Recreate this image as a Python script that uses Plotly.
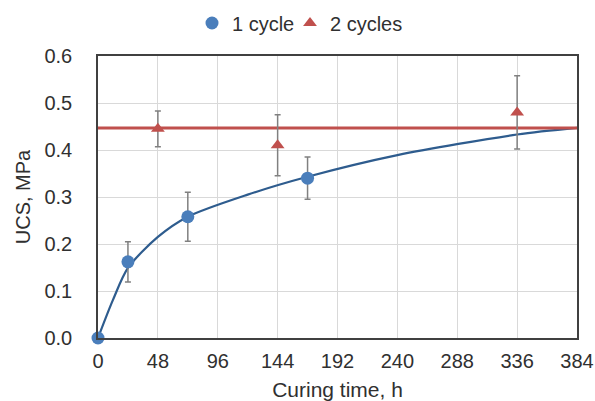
import plotly.graph_objects as go

# 1 cycle measured data
t1 = [0, 24, 72, 168]
ucs1 = [0.0, 0.162, 0.258, 0.340]
err1 = [0.0, 0.043, 0.052, 0.045]

# 2 cycles measured data
t2 = [48, 144, 336]
ucs2 = [0.445, 0.410, 0.480]
err2 = [0.038, 0.065, 0.078]

# trend curve for 1 cycle
fit_t = [0, 12, 24, 48, 72, 120, 168, 240, 336, 384]
fit_ucs = [0.0, 0.081, 0.149, 0.215, 0.258, 0.305, 0.343, 0.389, 0.433, 0.447]

# 2 cycles level line
lvl_t = [0, 384]
lvl_ucs = [0.447, 0.447]

x_ticks = [0, 48, 96, 144, 192, 240, 288, 336, 384]
y_ticks = [0.0, 0.1, 0.2, 0.3, 0.4, 0.5, 0.6]

BLUE = "#4a7ebb"
DARKBLUE = "#2e5c8e"
RED = "#c0504d"
GREY = "#808080"
FONT = "Liberation Sans, Arial, sans-serif"
TXT = "#303030"

fig = go.Figure()

fig.add_trace(go.Scatter(x=fit_t, y=fit_ucs, mode="lines", line=dict(color=DARKBLUE, width=2.2, shape="spline", smoothing=0.8),
                         showlegend=False, hoverinfo="skip"))
fig.add_trace(go.Scatter(x=lvl_t, y=lvl_ucs, mode="lines", line=dict(color=RED, width=3),
                         showlegend=False, hoverinfo="skip"))

fig.add_trace(go.Scatter(x=t1, y=ucs1, mode="markers", name="1 cycle", legend="legend",
                         marker=dict(symbol="circle", size=13, color=BLUE),
                         error_y=dict(type="data", array=err1, color=GREY, thickness=1.5, width=3),
                         cliponaxis=False))
fig.add_trace(go.Scatter(x=t2, y=ucs2, mode="markers", name="2 cycles", legend="legend2",
                         marker=dict(symbol="triangle-up", size=12, color=RED),
                         error_y=dict(type="data", array=err2, color=GREY, thickness=1.5, width=3),
                         cliponaxis=False))

W, H = 595, 401
leg_common = dict(orientation="h", xref="container", yref="container", xanchor="left",
                  y=1 - 23 / H, yanchor="middle", font=dict(size=20, color=TXT),
                  itemwidth=30, bgcolor="rgba(0,0,0,0)")
fig.update_layout(
    width=W, height=H,
    margin=dict(l=98, r=18, t=56, b=63, autoexpand=False),
    paper_bgcolor="white", plot_bgcolor="white",
    font=dict(family=FONT, size=20, color=TXT),
    legend=dict(x=192 / W, **leg_common),
    legend2=dict(x=290 / W, **leg_common),
    xaxis=dict(range=[0, 384], tickvals=x_ticks, ticktext=[str(v) for v in x_ticks],
               showgrid=True, gridcolor="#d9d9d9", gridwidth=1.3,
               showline=True, linecolor="#404040", linewidth=1.5, mirror=True,
               ticks="", ticklabelstandoff=4, zeroline=False, automargin=False,
               ticklabeloverflow="allow",
               title=dict(text="Curing time, h", font=dict(size=21), standoff=18)),
    yaxis=dict(range=[0, 0.6], tickvals=y_ticks, ticktext=[f"{v:.1f}" for v in y_ticks],
               showgrid=True, gridcolor="#d9d9d9", gridwidth=1.3,
               showline=True, linecolor="#404040", linewidth=1.5, mirror=True,
               ticks="", ticklabelstandoff=20, zeroline=False, automargin=False,
               title=dict(text="UCS, MPa", font=dict(size=20), standoff=8)),
)

# remove the browser's default 8px body margin so the figure fills the window
fig.write_html("out.html", config={"displayModeBar": False},
               post_script="document.body.style.margin='0px';")
